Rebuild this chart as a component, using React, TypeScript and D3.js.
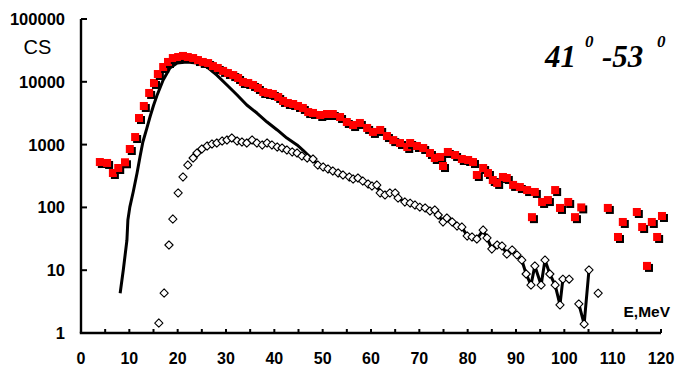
import React from "react";
import * as d3 from "d3";

// Measured cross section (red squares): energy in MeV and CS
const redE = [3.9, 5.4, 6.6, 7.7, 9.1, 10.1, 11.2, 12.0, 13.0, 14.1, 15.1, 15.9, 17.0, 18.0, 19.0, 20.1, 21.1, 22.1, 23.2, 24.2, 25.2, 26.3, 27.3, 28.3, 29.4, 30.4, 31.5, 32.5, 33.5, 34.6, 35.6, 36.6, 37.7, 38.7, 39.7, 40.8, 41.8, 42.8, 43.9, 44.9, 45.9, 47.0, 48.0, 49.5, 50.9, 52.1, 53.6, 55.0, 56.3, 57.7, 59.2, 60.4, 61.9, 63.3, 64.6, 66.0, 67.5, 68.1, 69.5, 70.8, 72.2, 73.2, 74.3, 74.9, 75.9, 77.4, 78.8, 80.1, 81.1, 81.9, 83.2, 84.2, 85.2, 86.1, 87.3, 88.1, 89.4, 90.8, 92.3, 93.3, 93.9, 95.4, 96.6, 98.1, 99.1, 100.8, 102.2, 103.5, 109.0, 111.1, 112.1, 115.0, 116.1, 117.1, 118.1, 119.2, 120.2];
const redCS = [528, 510, 353, 424, 523, 851, 1320, 2650, 4120, 6640, 9580, 13300, 17200, 20700, 23900, 24800, 25800, 24800, 23900, 22200, 20700, 19900, 17800, 16600, 14900, 13800, 12800, 11500, 9930, 9580, 8900, 7970, 6880, 6640, 6400, 5730, 4950, 4600, 4430, 4120, 3830, 3300, 3190, 2960, 3070, 3070, 2750, 2290, 2050, 2210, 1840, 1590, 1710, 1370, 1180, 1060, 916, 1060, 950, 883, 735, 612, 635, 456, 763, 683, 590, 569, 528, 328, 424, 353, 273, 245, 305, 294, 228, 211, 189, 70, 176, 122, 131, 189, 98, 122, 70, 100, 98, 33.8, 58.6, 84.5, 48.7, 11.7, 58.6, 33.8, 73];

// Component cross section (open diamonds)
const diaE = [16.1, 17.2, 18.2, 19.0, 20.1, 21.1, 22.1, 23.2, 24.0, 25.0, 26.1, 27.1, 28.1, 29.2, 30.2, 31.2, 32.3, 33.3, 34.3, 35.4, 36.4, 37.5, 38.5, 39.5, 40.6, 41.6, 42.6, 43.7, 44.7, 45.7, 46.8, 48.0, 49.0, 50.1, 51.1, 52.1, 53.2, 54.2, 55.5, 56.3, 57.3, 58.3, 59.4, 60.2, 61.2, 61.9, 62.9, 63.9, 65.0, 65.6, 67.0, 68.1, 69.1, 70.1, 71.2, 72.2, 73.2, 73.9, 74.9, 75.7, 76.8, 77.8, 78.8, 79.9, 80.9, 81.9, 83.2, 84.0, 85.0, 86.1, 87.1, 88.1, 89.2, 90.2, 91.2, 92.1, 93.1, 93.9, 95.2, 96.0, 97.0, 98.1, 99.1, 99.7, 101.0, 103.0, 104.1, 105.1, 107.0];
const diaCS = [1.44, 4.33, 25.2, 65.3, 170, 305, 473, 612, 735, 851, 950, 1023, 1060, 1141, 1184, 1274, 1141, 1100, 1060, 1184, 1060, 986, 1060, 986, 916, 883, 820, 763, 735, 658, 612, 590, 473, 440, 409, 380, 353, 328, 305, 283, 294, 263, 236, 219, 227, 170, 158, 170, 170, 141, 122, 117, 109, 101, 98, 87.6, 90.9, 75.7, 58.6, 67.8, 58.6, 50.6, 48.7, 35.1, 33.8, 31.4, 43.6, 32.6, 21.8, 25.2, 24.3, 18.1, 21.0, 17.5, 14.5, 8.7, 5.8, 11.7, 5.8, 14.5, 8.7, 5.8, 2.8, 7.2, 7.2, 2.9, 1.39, 10.1, 4.3];

// Calculated curve (thick line), low-energy part; above 47 MeV it runs through the diamonds
const curveE = [8.1, 8.75, 9.5, 9.7, 10.1, 10.8, 11.6, 12.2, 12.8, 13.6, 14.3, 15.0, 15.7, 17.0, 18.4, 19.9, 21.9, 24.0, 26.1, 28.1, 30.2, 32.3, 34.3, 36.4, 38.5, 40.6, 42.6, 44.7, 45.9, 47.4];
const curveCS = [4.3, 10.1, 30, 63, 101, 176, 353, 635, 1100, 1800, 2800, 4200, 6000, 10700, 16600, 19900, 20700, 19900, 17200, 12800, 8900, 6160, 4270, 3180, 2290, 1710, 1270, 987, 820, 635];
const curveJoinE = 47.5;
const curveEndE = 105.5;

const xTickLabels = [0, 10, 20, 30, 40, 50, 60, 70, 80, 90, 100, 110, 120];
const xMinorTicks = [5, 15, 25, 35, 45, 55, 65, 75, 85, 95, 105, 115];
const yTicks = [1, 10, 100, 1000, 10000, 100000];

const W = 676;
const H = 368;
const left = 81;
const right = 661;
const top = 19;
const bottom = 333;

export default function App() {
  const x = d3.scaleLinear().domain([0, 120]).range([left, right]);
  const y = d3.scaleLog().domain([1, 100000]).range([bottom, top]);

  type P = { e: number; v: number; gap?: boolean };
  const pts: P[] = curveE.map((e, i) => ({ e, v: curveCS[i] }));
  let prev = curveE[curveE.length - 1];
  diaE.forEach((e, i) => {
    if (e > curveJoinE && e <= curveEndE) {
      if (e - prev > 1.5) pts.push({ e: (e + prev) / 2, v: 1, gap: true });
      pts.push({ e, v: diaCS[i] });
      prev = e;
    }
  });
  const line = d3
    .line<P>()
    .defined((d) => !d.gap)
    .x((d) => x(d.e))
    .y((d) => y(d.v));

  const sq = 8;
  const dr = 4.1;
  const diamond = (cx: number, cy: number) =>
    `M${cx},${cy - dr}L${cx + dr},${cy}L${cx},${cy + dr}L${cx - dr},${cy}Z`;

  const font = "Arial, 'Liberation Sans', sans-serif";

  return (
    <svg
      width={W}
      height={H}
      style={{ position: "absolute", left: 0, top: 0, background: "#fff" }}
    >
      <rect width={W} height={H} fill="#fff" />
      {/* axes */}
      <line x1={left} y1={top} x2={left} y2={bottom} stroke="#000" strokeWidth={2.4} />
      <line x1={left - 1.2} y1={bottom} x2={right} y2={bottom} stroke="#000" strokeWidth={2.4} />
      {yTicks.map((t) => (
        <g key={"y" + t}>
          <line x1={left} x2={left + 6} y1={y(t)} y2={y(t)} stroke="#000" strokeWidth={2} />
          <text
            x={65}
            y={y(t)}
            dy="0.36em"
            textAnchor="end"
            fontFamily={font}
            fontWeight="bold"
            fontSize={16.5}
          >
            {String(t)}
          </text>
        </g>
      ))}
      {xTickLabels.map((t) => (
        <g key={"x" + t}>
          <line x1={x(t)} x2={x(t)} y1={bottom} y2={bottom - 4} stroke="#000" strokeWidth={2} />
          <text
            x={x(t)}
            y={364}
            textAnchor="middle"
            fontFamily={font}
            fontWeight="bold"
            fontSize={16}
          >
            {String(t)}
          </text>
        </g>
      ))}
      {xMinorTicks.map((t) => (
        <line key={"m" + t} x1={x(t)} x2={x(t)} y1={bottom} y2={bottom - 4} stroke="#000" strokeWidth={2} />
      ))}
      <text x={37.5} y={54} textAnchor="middle" fontFamily={font} fontSize={20}>
        CS
      </text>
      <text x={670} y={317} textAnchor="end" fontFamily={font} fontWeight="bold" fontSize={15.5}>
        E,MeV
      </text>
      <g fontFamily="'Liberation Serif', 'Times New Roman', serif" fontWeight="bold" fontStyle="italic">
        <text x={545} y={67} fontSize={31}>41</text>
        <text x={585} y={47} fontSize={17}>0</text>
        <text x={602} y={67} fontSize={31}>-53</text>
        <text x={657} y={47} fontSize={17}>0</text>
      </g>

      {/* calculated curve */}
      <path d={line(pts) || ""} fill="none" stroke="#000" strokeWidth={3} strokeLinejoin="round" />

      {/* open diamonds */}
      {diaE.map((e, i) => (
        <path
          key={"d" + i}
          d={diamond(x(e), y(diaCS[i]))}
          fill="#fff"
          stroke="#000"
          strokeWidth={1.1}
          strokeLinejoin="round"
        />
      ))}

      {/* red squares with drop shadow */}
      {redE.map((e, i) => {
        const cx = x(e);
        const cy = y(redCS[i]);
        return (
          <g key={"r" + i}>
            <rect x={cx - sq / 2 + 2} y={cy - sq / 2 + 2} width={sq} height={sq} fill="#000" />
            <rect x={cx - sq / 2} y={cy - sq / 2} width={sq} height={sq} fill="#ff0000" />
          </g>
        );
      })}
    </svg>
  );
}
